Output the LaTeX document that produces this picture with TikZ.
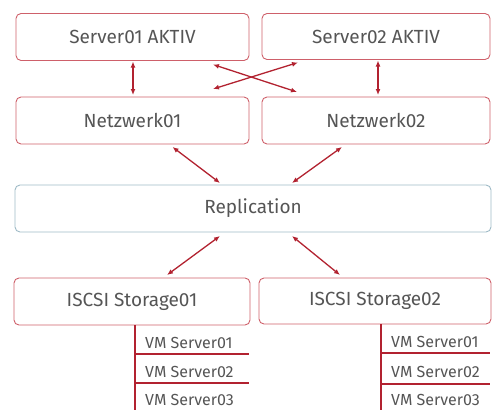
\documentclass[tikz,border=0pt]{standalone}
\usepackage{fontspec}
\setmainfont{Fira Sans}
\usepackage{tikz}
\usetikzlibrary{arrows.meta}
\definecolor{boxred}{RGB}{206,96,106}
\definecolor{arrred}{RGB}{178,34,48}
\definecolor{boxblue}{RGB}{158,186,198}
\definecolor{txtgray}{RGB}{85,85,85}
\tikzset{
box/.style = {rectangle, rounded corners=5pt, draw=boxred, line width=0.9pt, outer sep=0pt,
  text=txtgray, font=\fontsize{19}{21}\selectfont, minimum height=47pt, minimum width = #1},
box/.default = 233pt,
link/.style = {draw=arrred, line width=1.3pt, {Latex[length=6pt,width=5pt]}-{Latex[length=6pt,width=5pt]}},
tree/.style = {draw=arrred, line width=1.6pt},
vm/.style = {anchor=west, inner sep=0pt, text=txtgray, font=\fontsize{16}{18}\selectfont},
}

\begin{document}
\begin{tikzpicture}[x=1pt, y=-1pt]
  \useasboundingbox (0,0) rectangle (492,410);
  % Boxes
    \node[box] (srvA) at (132.5,37) {Server01 AKTIV};
    \node[box=228pt, minimum height=46pt] (srvB) at (376,36.5) {Server02 AKTIV};
    \node[box] (netA) at (132.5,120.5) {Netzwerk01};
    \node[box=228pt] (netB) at (376,120.5) {Netzwerk02};
    \node[box=476pt, draw=boxblue] (repl) at (253,208.5) {Replication};
    \node[box=236pt] (stoA) at (132,301.5) {ISCSI Storage01};
    \node[box=232pt, minimum height=46pt] (stoB) at (375,301) {ISCSI Storage02};

  % Nodes
    \coordinate (endA) at (135,410);
    \coordinate (endB) at (381,410);
    \node[vm] (vmA1) at (145,343) {VM Server01};
    \node[vm] (vmA2) at (145,372) {VM Server02};
    \node[vm] (vmA3) at (145,400) {VM Server03};
    \node[vm] (vmB1) at (391,342) {VM Server01};
    \node[vm] (vmB2) at (391,372) {VM Server02};
    \node[vm] (vmB3) at (391,400) {VM Server03};
    \coordinate (tipA1) at (249,354);
    \coordinate (tipA2) at (249,383);
    \coordinate (tipB1) at (490,353);
    \coordinate (tipB2) at (490,384);

  % Lines
    \draw[link, shorten >=2pt, shorten <=1pt] ([xshift=0.5pt]srvA.south) -- ([xshift=0.5pt]netA.north);
    \draw[link, shorten >=2pt, shorten <=1pt] ([xshift=2pt]srvB.south) -- ([xshift=2pt]netB.north);
    \draw[link] ([xshift=-36pt,yshift=-4pt]srvA.south east) -- ([xshift=35pt,yshift=5pt]netB.north west);
    \draw[link] ([xshift=-36pt,yshift=8pt]netA.north east) -- ([xshift=36pt,yshift=-3pt]srvB.south west);
    \draw[link] ([xshift=40pt,yshift=-3pt]netA.south) -- ([xshift=-33pt,yshift=2pt]repl.north);
    \draw[link] ([xshift=-34pt,yshift=-3pt]netB.south) -- ([xshift=39pt,yshift=2pt]repl.north);
    \draw[link] ([xshift=-33pt,yshift=-4pt]repl.south) -- ([xshift=35pt,yshift=3pt]stoA.north);
    \draw[link] ([xshift=39pt,yshift=-4pt]repl.south) -- ([xshift=-35pt,yshift=3pt]stoB.north);

    \draw[tree] (stoA.south -| endA) -- (endA);
    \draw[tree] (endA |- tipA1) -- (tipA1);
    \draw[tree] (endA |- tipA2) -- (tipA2);
    \draw[tree] (stoB.south -| endB) -- (endB);
    \draw[tree] (endB |- tipB1) -- (tipB1);
    \draw[tree] (endB |- tipB2) -- (tipB2);
\end{tikzpicture}
\end{document}
